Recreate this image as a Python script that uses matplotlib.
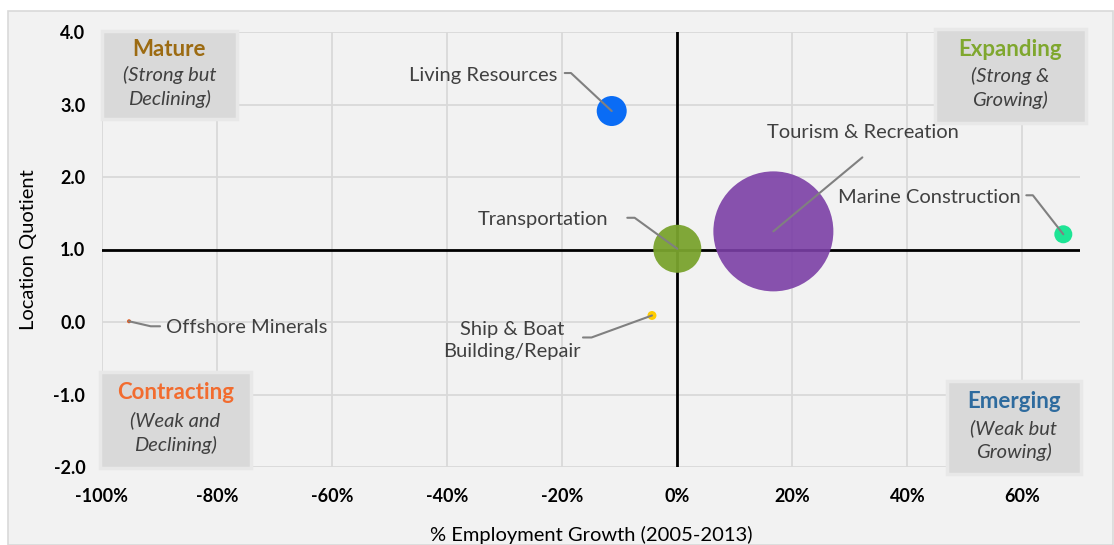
import numpy as np
import matplotlib.pyplot as plt
from matplotlib.patches import Rectangle

plt.rcParams['font.family'] = ['Lato', 'DejaVu Sans']

# data
sectors = ["Living Resources", "Transportation", "Tourism & Recreation",
           "Marine Construction", "Ship & Boat\nBuilding/Repair", "Offshore Minerals"]
growth = [-0.114, 0.0, 0.167, 0.671, -0.044, -0.953]
lq = [2.91, 1.01, 1.25, 1.21, 0.09, 0.01]
employment = [225, 576, 3600, 81, 20, 4]   # relative bubble size (estimated)
colors = ["#0a6cf5", "#7aa32e", "#7b3fa6", "#1ee495", "#ffcc00", "#e0561b"]
alphas = [1.0, 0.95, 0.9, 1.0, 1.0, 1.0]

x_ticks = [-1.0, -0.8, -0.6, -0.4, -0.2, 0.0, 0.2, 0.4, 0.6]
y_ticks = [-2, -1, 0, 1, 2, 3, 4]

# label placement (offset pixels from bubble): text pos, leader start, leader angle at bubble
labels = [
    dict(txt=(-54, 36), ha="right", start=(-47, 38), ang=137),
    dict(txt=(-69, 29), ha="right", start=(-50, 31), ang=144),
    dict(txt=(90, 99), ha="center", start=(89, 74), ang=None),
    dict(txt=(-43, 37), ha="right", start=(-37, 39), ang=128),
    dict(txt=(-140, -25), ha="center", start=(-69, -22), ang=-160),
    dict(txt=(37, -6), ha="left", start=(31, -5), ang=-13),
]

fig = plt.figure(figsize=(11.14, 5.45), dpi=100, facecolor="white")
fig.patches.append(Rectangle((8 / 1114, 0), 1 - 8 / 1114 - 0.001, 1 - 11 / 545,
                             transform=fig.transFigure, facecolor="#f2f2f2",
                             edgecolor="#d9d9d9", lw=1.2, zorder=-5))

ax = fig.add_axes([102 / 1114, 1 - 467 / 545, 978 / 1114, 435 / 545], zorder=2)
ax.set_facecolor("none")
ax.set_xlim(-1.0, 0.7)
ax.set_ylim(-2, 4)
for s in ax.spines.values():
    s.set_visible(False)

ax.set_xticks(x_ticks)
ax.set_xticklabels([f"{v:.0%}" for v in x_ticks])
ax.set_yticks(y_ticks)
ax.set_yticklabels([f"{v:.1f}" for v in y_ticks])
ax.tick_params(length=0, labelsize=13, pad=12)
for t in ax.get_xticklabels() + ax.get_yticklabels():
    t.set_fontweight("bold")
ax.tick_params(axis="x", pad=15)

ax.grid(True, color="#d9d9d9", lw=1.3, zorder=0)
ax.set_axisbelow(True)
ax.axhline(1.0, color="black", lw=2, zorder=1)
ax.axvline(0.0, color="black", lw=2, zorder=1)

ax.set_ylabel("Location Quotient", fontsize=14.5, labelpad=12)
ax.set_xlabel("% Employment Growth (2005-2013)", fontsize=14.5, labelpad=15)

# bubbles
k = (2 * 0.72) ** 2
for x, y, e, c, a in zip(growth, lq, employment, colors, alphas):
    ax.scatter(x, y, s=e * k, color=c, alpha=a, edgecolors="none", zorder=3)

# labels and leader lines
for name, x, y, lab in zip(sectors, growth, lq, labels):
    ax.annotate(name, xy=(x, y), xytext=lab["txt"], textcoords="offset pixels",
                ha=lab["ha"], va="center", fontsize=14.5, color="#404040",
                linespacing=1.3, zorder=5)
    if lab["ang"] is None:
        cs = "arc3"
    else:
        cs = f"angle,angleA=0,angleB={lab['ang']},rad=0"
    ax.annotate("", xy=(x, y), xytext=lab["start"], textcoords="offset pixels",
                arrowprops=dict(arrowstyle="-", color="#808080", lw=1.5,
                                connectionstyle=cs, shrinkA=0, shrinkB=0),
                zorder=5)

# quadrant boxes (axes fraction)
quads = [
    ("Mature", "(Strong but\nDeclining)", "#9c6b12", (0.0, 0.799, 0.1377, 1.003)),
    ("Expanding", "(Strong &\nGrowing)", "#7fa72e", (0.8517, 0.7915, 1.0058, 1.006)),
    ("Contracting", "(Weak and\nDeclining)", "#f26c2f", (-0.002, -0.003, 0.152, 0.219)),
    ("Emerging", "(Weak but\nGrowing)", "#2e6b9e", (0.8637, -0.0168, 1.001, 0.1977)),
]
for title, sub, tc, (x0, y0, x1, y1) in quads:
    ax.add_patch(Rectangle((x0, y0), x1 - x0, y1 - y0, transform=ax.transAxes,
                           facecolor="#d9d9d9", edgecolor="#e8e8e8", lw=2.5,
                           zorder=4, clip_on=False))
    cx = (x0 + x1) / 2
    h = y1 - y0
    ax.text(cx, y1 - h * 0.215, title, transform=ax.transAxes, ha="center",
            va="center", fontsize=16, fontweight="bold", color=tc, zorder=6)
    ax.text(cx, y1 - h * 0.63, sub, transform=ax.transAxes, ha="center",
            va="center", fontsize=14.5, style="italic", color="#404040",
            linespacing=1.4, zorder=6)

fig.savefig("out.png", dpi=100, facecolor=fig.get_facecolor())
